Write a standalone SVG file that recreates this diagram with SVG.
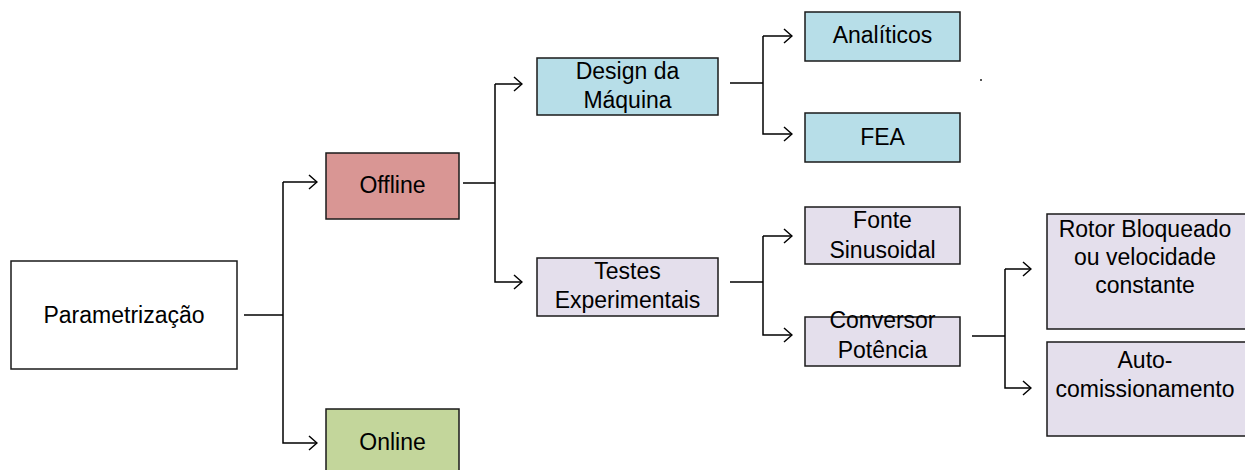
<svg xmlns="http://www.w3.org/2000/svg" width="1245" height="470" viewBox="0 0 1245 470">
<defs>
<style>
.box{stroke:#1a1a1a;stroke-width:1.5}
.t{font-family:"Liberation Sans",Arial,sans-serif;font-size:23px;fill:#000;text-anchor:middle}
.c{fill:none;stroke:#000;stroke-width:1.5}
</style>
<marker id="ah" viewBox="0 0 10 16" refX="9" refY="8" markerWidth="10" markerHeight="16" markerUnits="userSpaceOnUse" orient="auto">
<path d="M1,1 L9,8 L1,15" fill="none" stroke="#000" stroke-width="1.5"/>
</marker>
</defs>
<rect width="1245" height="470" fill="#fff"/>
<g id="connectors">
<path class="c" d="M244,315 H283"/>
<path class="c" d="M283,182 V443 H317" marker-end="url(#ah)"/>
<path class="c" d="M283,182 H317" marker-end="url(#ah)"/>
<path class="c" d="M463,183 H495"/>
<path class="c" d="M495,84 V282 H522" marker-end="url(#ah)"/>
<path class="c" d="M495,84 H522" marker-end="url(#ah)"/>
<path class="c" d="M730,83 H763"/>
<path class="c" d="M763,36 V134 H792" marker-end="url(#ah)"/>
<path class="c" d="M763,36 H792" marker-end="url(#ah)"/>
<path class="c" d="M730,282 H763"/>
<path class="c" d="M763,236 V335 H792" marker-end="url(#ah)"/>
<path class="c" d="M763,236 H792" marker-end="url(#ah)"/>
<path class="c" d="M972,336 H1005"/>
<path class="c" d="M1005,269 V388 H1031" marker-end="url(#ah)"/>
<path class="c" d="M1005,269 H1031" marker-end="url(#ah)"/>
</g>
<g id="parametrizacao">
<rect class="box" x="11" y="261" width="226" height="108" fill="#fff"/>
<text class="t" x="124" y="323">Parametrização</text>
</g>
<g id="offline">
<rect class="box" x="326" y="153" width="133" height="66" fill="#d99694"/>
<text class="t" x="392.5" y="193">Offline</text>
</g>
<g id="online">
<rect class="box" x="326" y="409" width="133" height="70" fill="#c3d69b"/>
<text class="t" x="392.5" y="450">Online</text>
</g>
<g id="design">
<rect class="box" x="537" y="58" width="181" height="57" fill="#b7dee8"/>
<text class="t" x="627.5" y="79">Design da</text>
<text class="t" x="627.5" y="108">Máquina</text>
</g>
<g id="testes">
<rect class="box" x="537" y="258" width="181" height="58" fill="#e4dfec"/>
<text class="t" x="627.5" y="279">Testes</text>
<text class="t" x="627.5" y="308">Experimentais</text>
</g>
<g id="analiticos">
<rect class="box" x="805" y="12" width="155" height="49" fill="#b7dee8"/>
<text class="t" x="882.5" y="43">Analíticos</text>
</g>
<g id="fea">
<rect class="box" x="805" y="113" width="155" height="49" fill="#b7dee8"/>
<text class="t" x="882.5" y="145">FEA</text>
</g>
<g id="fonte">
<rect class="box" x="805" y="207" width="155" height="57" fill="#e4dfec"/>
<text class="t" x="882.5" y="228">Fonte</text>
<text class="t" x="882.5" y="258">Sinusoidal</text>
</g>
<g id="conversor">
<rect class="box" x="805" y="317" width="155" height="49" fill="#e4dfec"/>
<text class="t" x="882.5" y="328">Conversor</text>
<text class="t" x="882.5" y="358">Potência</text>
</g>
<g id="rotor">
<rect class="box" x="1047" y="214" width="210" height="115" fill="#e4dfec"/>
<text class="t" x="1145" y="237">Rotor Bloqueado</text>
<text class="t" x="1145" y="265">ou velocidade</text>
<text class="t" x="1145" y="293">constante</text>
</g>
<g id="auto">
<rect class="box" x="1047" y="342" width="210" height="94" fill="#e4dfec"/>
<text class="t" x="1145" y="368">Auto-</text>
<text class="t" x="1145" y="397">comissionamento</text>
</g>
<rect x="980" y="79" width="2" height="2" fill="#555"/>
</svg>
